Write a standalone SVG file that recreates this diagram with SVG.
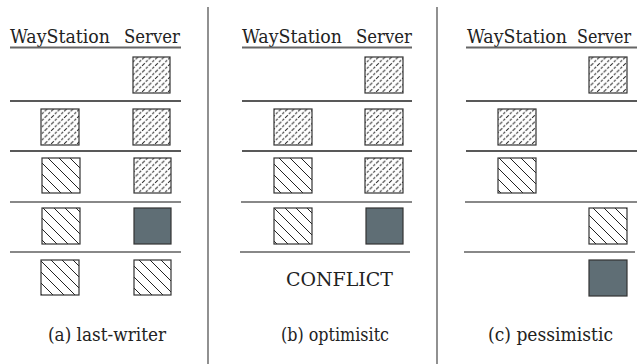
<svg xmlns="http://www.w3.org/2000/svg" width="637" height="364" viewBox="0 0 637 364">
<style>
text{fill:#222;font-size:19px;font-family:"DejaVu Serif","Liberation Serif",serif}
.ul{stroke:#666;stroke-width:2}
.dk{stroke:#222;stroke-width:1.3}
.gr{stroke:#888;stroke-width:1.8}
.sep{stroke:#555;stroke-width:1.3}
.fine{fill:url(#fine);stroke:#333;stroke-width:1.2}
.wide{fill:url(#wide);stroke:#333;stroke-width:1.2}
.dark{fill:#5f6e75;stroke:#333;stroke-width:1.2}
</style>
<defs>
<pattern id="fine" patternUnits="userSpaceOnUse" width="6.5" height="6.5">
<rect width="6.5" height="6.5" fill="#fff"/>
<path d="M0,6.5 L6.5,0 M-1,1 L1,-1 M5.5,7.5 L7.5,5.5" stroke="#222" stroke-width="1" stroke-dasharray="2.6,1.4"/>
</pattern>
<pattern id="wide" patternUnits="userSpaceOnUse" width="11" height="11">
<rect width="11" height="11" fill="#fff"/>
<path d="M0,0 L11,11 M10,-1 L12,1 M-1,10 L1,12" stroke="#222" stroke-width="1"/>
</pattern>
</defs>
<g id="separators">
<line class="sep" x1="208" y1="7" x2="208" y2="364"/>
<line class="sep" x1="437" y1="7" x2="437" y2="364"/>
</g>
<g id="panel-a">
<text x="10" y="43" textLength="100" lengthAdjust="spacingAndGlyphs">WayStation</text>
<text x="124" y="43" textLength="56" lengthAdjust="spacingAndGlyphs">Server</text>
<line class="ul" x1="10" y1="47.5" x2="181" y2="47.5"/>
<line class="dk" x1="10" y1="101" x2="181" y2="101"/>
<line class="dk" x1="10" y1="151" x2="181" y2="151"/>
<line class="gr" x1="10" y1="202" x2="181" y2="202"/>
<line class="gr" x1="10" y1="252" x2="181" y2="252"/>
<rect class="fine" x="133" y="57" width="37" height="36"/>
<rect class="fine" x="41" y="109" width="38" height="36"/>
<rect class="fine" x="133" y="109" width="37" height="36"/>
<rect class="wide" x="42" y="158" width="38" height="35"/>
<rect class="fine" x="134" y="158" width="37" height="35"/>
<rect class="wide" x="42" y="208" width="38" height="36"/>
<rect class="dark" x="134" y="208" width="37" height="36"/>
<rect class="wide" x="41" y="260" width="38" height="35"/>
<rect class="wide" x="134" y="260" width="37" height="35"/>
<text x="48" y="341" textLength="118" lengthAdjust="spacingAndGlyphs">(a) last-writer</text>
</g>
<g id="panel-b">
<text x="242" y="43" textLength="100" lengthAdjust="spacingAndGlyphs">WayStation</text>
<text x="356" y="43" textLength="56" lengthAdjust="spacingAndGlyphs">Server</text>
<line class="ul" x1="242" y1="47.5" x2="412" y2="47.5"/>
<line class="dk" x1="242" y1="101" x2="412" y2="101"/>
<line class="dk" x1="242" y1="151" x2="412" y2="151"/>
<line class="gr" x1="241" y1="202" x2="412" y2="202"/>
<line class="gr" x1="240" y1="252" x2="410" y2="252"/>
<rect class="fine" x="365" y="57" width="38" height="36"/>
<rect class="fine" x="274" y="109" width="38" height="36"/>
<rect class="fine" x="365" y="109" width="38" height="36"/>
<rect class="wide" x="274" y="158" width="38" height="35"/>
<rect class="fine" x="365" y="158" width="38" height="35"/>
<rect class="wide" x="274" y="208" width="38" height="36"/>
<rect class="dark" x="366" y="208" width="37" height="36"/>
<text x="286" y="286" font-size="21" textLength="107" lengthAdjust="spacingAndGlyphs">CONFLICT</text>
<text x="281" y="341" textLength="108" lengthAdjust="spacingAndGlyphs">(b) optimisitc</text>
</g>
<g id="panel-c">
<text x="467" y="43" textLength="100" lengthAdjust="spacingAndGlyphs">WayStation</text>
<text x="577" y="43" textLength="54" lengthAdjust="spacingAndGlyphs">Server</text>
<line class="ul" x1="466" y1="47.5" x2="637" y2="47.5"/>
<line class="dk" x1="466" y1="101" x2="637" y2="101"/>
<line class="dk" x1="466" y1="151" x2="637" y2="151"/>
<line class="gr" x1="465" y1="202" x2="637" y2="202"/>
<line class="gr" x1="464" y1="252" x2="635" y2="252"/>
<rect class="fine" x="589" y="57" width="38" height="36"/>
<rect class="fine" x="498" y="109" width="38" height="36"/>
<rect class="wide" x="498" y="158" width="38" height="35"/>
<rect class="wide" x="589" y="208" width="38" height="36"/>
<rect class="dark" x="589" y="260" width="38" height="36"/>
<text x="488" y="341" textLength="125" lengthAdjust="spacingAndGlyphs">(c) pessimistic</text>
</g>
</svg>
